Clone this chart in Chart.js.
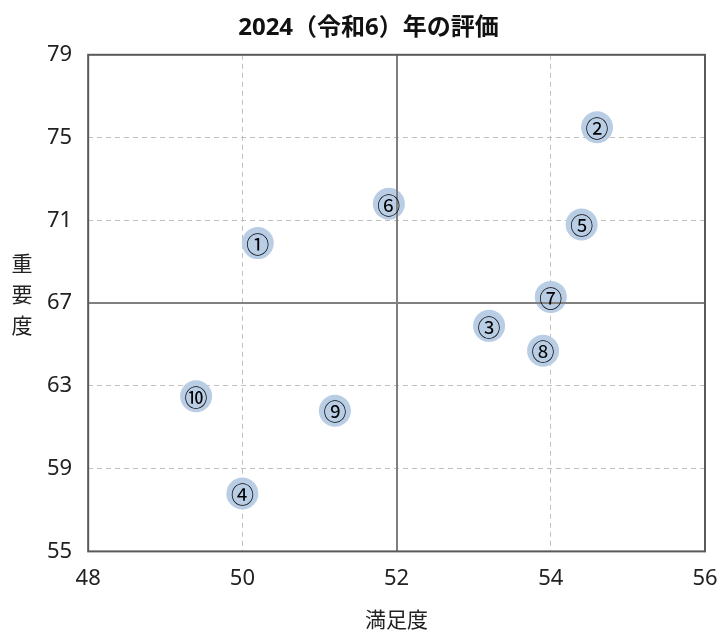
<!DOCTYPE html>
<html><head><meta charset="utf-8">
<script src="https://cdn.jsdelivr.net/npm/chart.js@4/dist/chart.umd.min.js"></script>
<style>html,body{margin:0;padding:0;background:#fff}#w{width:721px;height:632px}</style>
</head><body><div id="w"><canvas id="c"></canvas></div>
<script>
const labels = ['①','②','③','④','⑤','⑥','⑦','⑧','⑨','⑩'];
const satisfaction = [50.2, 54.6, 53.2, 50.0, 54.4, 51.9, 54.0, 53.9, 51.2, 49.4];
const importance = [69.9, 75.5, 65.9, 57.8, 70.8, 71.8, 67.3, 64.7, 61.8, 62.5];
const xTicks = [48, 50, 52, 54, 56];
const yTicks = [55, 59, 63, 67, 71, 75, 79];
const xCross = 52, yCross = 67;
const FONT = "'Noto Sans', 'Noto Sans CJK JP', sans-serif";
const CJK = "'Noto Sans CJK JP', sans-serif";

const overlay = {
  id: 'overlay',
  afterDatasetsDraw(chart) {
    const {ctx, chartArea: a, scales: {x, y}} = chart;
    ctx.save();
    ctx.strokeStyle = '#808080'; ctx.lineWidth = 2;
    ctx.beginPath();
    const cx = Math.round(x.getPixelForValue(xCross)), cy = Math.round(y.getPixelForValue(yCross));
    ctx.moveTo(cx, a.top); ctx.lineTo(cx, a.bottom);
    ctx.moveTo(a.left, cy); ctx.lineTo(a.right, cy);
    ctx.stroke();
    ctx.strokeStyle = '#595959'; ctx.lineWidth = 2;
    ctx.strokeRect(a.left, a.top, a.right - a.left, a.bottom - a.top);
    ctx.fillStyle = '#000'; ctx.font = "23px " + CJK;
    ctx.textAlign = 'center'; ctx.textBaseline = 'middle';
    const meta = chart.getDatasetMeta(0);
    meta.data.forEach((p, i) => ctx.fillText(labels[i], p.x, p.y + 1));
    ctx.font = "21px " + CJK; ctx.fillStyle = '#222';
    ['重','要','度'].forEach((ch, i) => ctx.fillText(ch, 22, 263 + i * 31));
    ctx.restore();
  }
};

new Chart(document.getElementById('c'), {
  type: 'scatter',
  data: { datasets: [{
    data: satisfaction.map((v, i) => ({x: v, y: importance[i]})),
    backgroundColor: '#b9cde5', borderWidth: 0, pointRadius: 16, pointHoverRadius: 16
  }]},
  plugins: [overlay],
  options: {
    responsive: true, maintainAspectRatio: false, animation: false,
    layout: { padding: { left: 31, right: 15, top: 6, bottom: 0 } },
    plugins: {
      legend: { display: false }, tooltip: { enabled: false },
      title: { display: true, text: '2024（令和6）年の評価', color: '#111',
        font: { family: FONT, size: 24, weight: 'bold' }, padding: { top: 8, bottom: 12 } }
    },
    scales: {
      x: { type: 'linear', min: 48, max: 56,
        afterBuildTicks: s => { s.ticks = xTicks.map(v => ({value: v})); },
        afterFit: s => { s.paddingRight = 0; },
        ticks: { color: '#222', font: { family: FONT, size: 22 }, padding: 14 },
        grid: { drawTicks: false, color: c => (c.tick && (c.tick.value === 50 || c.tick.value === 54)) ? '#c0c0c0' : 'transparent', lineWidth: 1 },
        border: { display: false, dash: [5, 4] },
        title: { display: true, text: '満足度', color: '#222', font: { family: CJK, size: 21 }, padding: { top: 1, bottom: 0 } }
      },
      y: { type: 'linear', min: 55, max: 79,
        afterBuildTicks: s => { s.ticks = yTicks.map(v => ({value: v})); },
        ticks: { color: '#222', font: { family: FONT, size: 22 }, padding: 16 },
        grid: { drawTicks: false, color: c => (c.tick && [59, 63, 71, 75].includes(c.tick.value)) ? '#c0c0c0' : 'transparent', lineWidth: 1 },
        border: { display: false, dash: [5, 4] }
      }
    }
  }
});
</script></body></html>
